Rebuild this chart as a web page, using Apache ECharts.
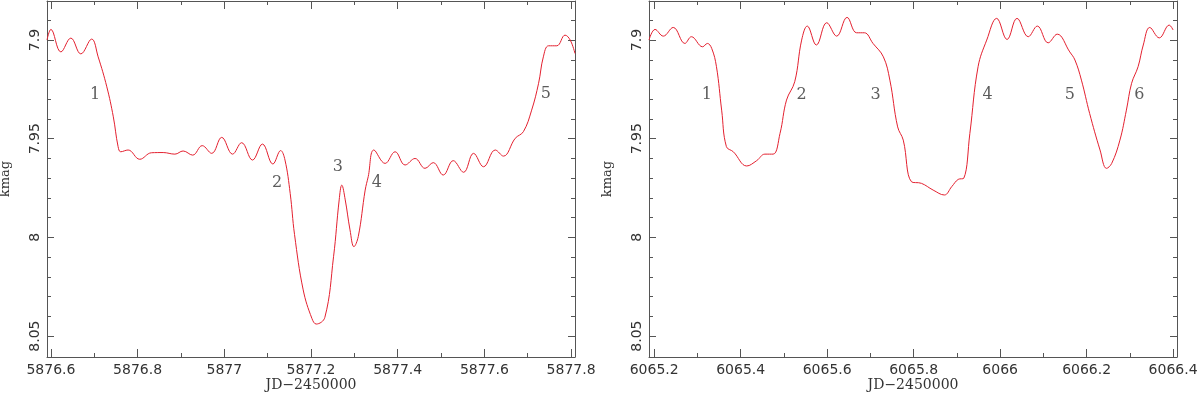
<!DOCTYPE html>
<html>
<head>
<meta charset="utf-8">
<script src="https://cdn.jsdelivr.net/npm/echarts@6/dist/echarts.min.js"></script>
<style>
  html, body { margin: 0; padding: 0; background: #fff; }
  #main { width: 1200px; height: 393px; }
</style>
</head>
<body>
<div id="main"></div>
<script>
// left panel light curve (JD-2450000, kmag)
const leftJD = [5876.591, 5876.600, 5876.623, 5876.646, 5876.669, 5876.694, 5876.709, 5876.729,
  5876.744, 5876.755, 5876.761, 5876.778, 5876.805, 5876.832, 5876.859, 5876.886, 5876.905,
  5876.927, 5876.949, 5876.971, 5876.994, 5877.019, 5877.040, 5877.065, 5877.088, 5877.112,
  5877.130, 5877.140, 5877.152, 5877.162, 5877.182, 5877.202, 5877.212, 5877.232, 5877.252,
  5877.265, 5877.271, 5877.279, 5877.290, 5877.299, 5877.309, 5877.325, 5877.332, 5877.345,
  5877.371, 5877.394, 5877.417, 5877.440, 5877.463, 5877.482, 5877.505, 5877.528, 5877.552,
  5877.575, 5877.598, 5877.625, 5877.644, 5877.671, 5877.690, 5877.709, 5877.725, 5877.736,
  5877.748, 5877.767, 5877.786, 5877.798, 5877.809];
const leftMag = [7.900, 7.8946, 7.906, 7.899, 7.907, 7.8995, 7.9085, 7.9237,
  7.9389, 7.954, 7.9566, 7.9557, 7.9604, 7.9571, 7.957, 7.9578, 7.9562,
  7.9583, 7.9535, 7.9574, 7.9493, 7.9578, 7.952, 7.9608, 7.9527, 7.9628,
  7.956, 7.9608, 7.9777, 7.9985, 8.0266, 8.041, 8.0439, 8.0405, 8.0098,
  7.981, 7.9735, 7.981, 7.9962, 8.0047, 7.9996, 7.976, 7.9692, 7.9557,
  7.9625, 7.9566, 7.9633, 7.960, 7.965, 7.9621, 7.9684, 7.9611, 7.967,
  7.9574, 7.9642, 7.9557, 7.9588, 7.9498, 7.9464, 7.9355, 7.9219, 7.9085,
  7.9029, 7.9029, 7.8975, 7.900, 7.9068];

// right panel light curve
const rightJD = [6065.188, 6065.202, 6065.221, 6065.244, 6065.271, 6065.286, 6065.312, 6065.323,
  6065.333, 6065.344, 6065.356, 6065.367, 6065.383, 6065.414, 6065.437, 6065.456, 6065.475,
  6065.491, 6065.506, 6065.525, 6065.541, 6065.554, 6065.575, 6065.599, 6065.622, 6065.646,
  6065.668, 6065.686, 6065.706, 6065.730, 6065.745, 6065.763, 6065.776, 6065.795, 6065.818,
  6065.845, 6065.871, 6065.888, 6065.903, 6065.916, 6065.930, 6065.949, 6065.969, 6065.992,
  6066.016, 6066.039, 6066.065, 6066.086, 6066.111, 6066.132, 6066.161, 6066.173, 6066.188,
  6066.207, 6066.231, 6066.246, 6066.258, 6066.277, 6066.292, 6066.304, 6066.319, 6066.331,
  6066.346, 6066.368, 6066.391, 6066.400];
const rightMag = [7.900, 7.8946, 7.898, 7.8936, 7.9017, 7.8983, 7.9034, 7.9017,
  7.9042, 7.9135, 7.9355, 7.954, 7.9566, 7.9638, 7.9611, 7.9578, 7.9578,
  7.9473, 7.9304, 7.9211, 7.900, 7.8929, 7.9025, 7.8912, 7.898, 7.8885,
  7.8963, 7.8963, 7.9017, 7.9085, 7.9203, 7.944, 7.9507, 7.9718, 7.9726,
  7.976, 7.9785, 7.9743, 7.9706, 7.970, 7.9473, 7.9135, 7.900, 7.889,
  7.8997, 7.889, 7.8983, 7.8929, 7.9014, 7.897, 7.906, 7.9101, 7.9203,
  7.9372, 7.9557, 7.965, 7.9625, 7.9507, 7.9355, 7.9219, 7.9135, 7.9025,
  7.8936, 7.8989, 7.8924, 7.8949];

// numbered markers
const leftMarkX = [5876.702, 5877.122, 5877.262, 5877.352, 5877.742];
const leftMarkY = [7.928, 7.9724, 7.9643, 7.9724, 7.9274];
const leftMarkText = ['1', '2', '3', '4', '5'];
const rightMarkX = [6065.322, 6065.541, 6065.712, 6065.971, 6066.161, 6066.322];
const rightMarkY = [7.928, 7.928, 7.928, 7.928, 7.928, 7.928];
const rightMarkText = ['1', '2', '3', '4', '5', '6'];

// axis ranges and ticks
const leftRange = [5876.591, 5877.809];
const rightRange = [6065.188, 6066.409];
const magRange = [7.8802, 8.0606];
const leftXTicks = [5876.6, 5876.8, 5877, 5877.2, 5877.4, 5877.6, 5877.8];
const leftXMinor = [5876.7, 5876.9, 5877.1, 5877.3, 5877.5, 5877.7];
const rightXTicks = [6065.2, 6065.4, 6065.6, 6065.8, 6066, 6066.2, 6066.4];
const rightXMinor = [6065.3, 6065.5, 6065.7, 6065.9, 6066.1, 6066.3];
const magTicks = [7.9, 7.95, 8, 8.05];
const magMinor = [7.89, 7.91, 7.92, 7.93, 7.94, 7.96, 7.97, 7.98, 7.99,
  8.01, 8.02, 8.03, 8.04];

const axisColor = '#555';
const textColor = '#333';

const chart = echarts.init(document.getElementById('main'));

const panels = [
  { left: 47, right: 625, range: leftRange, major: leftXTicks, minor: leftXMinor },
  { left: 649, right: 23, range: rightRange, major: rightXTicks, minor: rightXMinor }
];

// plain numbers, no thousands separator
const fmt = (v) => String(+(+v).toFixed(3));

let grids = [], xAxes = [], yAxes = [];
panels.forEach((p, i) => {
  // two grids per panel: one for major ticks + data, one for minor ticks
  [true, false].forEach((isMajor) => {
    const gi = grids.length;
    grids.push({ left: p.left, right: p.right, top: 1, bottom: 36,
      containLabel: false, outerBoundsMode: 'none' });
    const tickVals = isMajor ? p.major : p.minor;
    const yVals = isMajor ? magTicks : magMinor;
    const len = isMajor ? 8 : 4;
    ['bottom', 'top'].forEach((pos) => {
      const showLab = isMajor && pos === 'bottom';
      xAxes.push({
        gridIndex: gi, type: 'value', position: pos,
        min: p.range[0], max: p.range[1],
        name: showLab ? 'JD\u22122450000' : '',
        nameLocation: 'middle', nameGap: 21, nameMoveOverlap: false,
        nameTextStyle: { fontFamily: 'DejaVu Serif', fontSize: 14, color: textColor },
        axisLine: { show: isMajor, lineStyle: { color: axisColor, width: 1 } },
        axisTick: { show: true, inside: true, length: len, customValues: tickVals,
          lineStyle: { color: axisColor } },
        axisLabel: { show: showLab, customValues: tickVals, margin: 6, formatter: fmt,
          fontFamily: 'DejaVu Sans', fontSize: 14, color: textColor },
        splitLine: { show: false }
      });
    });
    ['left', 'right'].forEach((pos) => {
      const showLab = isMajor && pos === 'left';
      yAxes.push({
        gridIndex: gi, type: 'value', position: pos, inverse: true,
        min: magRange[0], max: magRange[1],
        name: showLab ? 'kmag' : '',
        nameLocation: 'middle', nameGap: 35, nameMoveOverlap: false,
        nameTextStyle: { fontFamily: 'DejaVu Serif', fontSize: 13, color: textColor },
        axisLine: { show: isMajor, lineStyle: { color: axisColor, width: 1 } },
        axisTick: { show: true, inside: true, length: isMajor ? 7 : 4, customValues: yVals,
          lineStyle: { color: axisColor } },
        axisLabel: { show: showLab, customValues: yVals, rotate: 90, margin: 5, formatter: fmt,
          fontFamily: 'DejaVu Sans', fontSize: 14, color: textColor },
        splitLine: { show: false }
      });
    });
  });
});

function zip(a, b) { return a.map((v, i) => [v, b[i]]); }
function marks(xs, ys, ts) { return xs.map((v, i) => ({ value: [v, ys[i]], name: ts[i] })); }

const lineStyle = { color: '#e3202f', width: 1 };

const option = {
  animation: false,
  grid: grids,
  xAxis: xAxes,
  yAxis: yAxes,
  series: [
    { type: 'line', xAxisIndex: 0, yAxisIndex: 0, data: zip(leftJD, leftMag),
      smooth: 0.4, showSymbol: false, lineStyle: lineStyle },
    { type: 'line', xAxisIndex: 4, yAxisIndex: 4, data: zip(rightJD, rightMag),
      smooth: 0.4, showSymbol: false, lineStyle: lineStyle },
    { type: 'scatter', xAxisIndex: 0, yAxisIndex: 0, symbolSize: 0,
      data: marks(leftMarkX, leftMarkY, leftMarkText),
      label: { show: true, position: 'inside', formatter: '{b}',
        fontFamily: 'DejaVu Serif', fontSize: 16, color: textColor } },
    { type: 'scatter', xAxisIndex: 4, yAxisIndex: 4, symbolSize: 0,
      data: marks(rightMarkX, rightMarkY, rightMarkText),
      label: { show: true, position: 'inside', formatter: '{b}',
        fontFamily: 'DejaVu Serif', fontSize: 16, color: textColor } }
  ]
};

chart.setOption(option);
</script>
</body>
</html>
